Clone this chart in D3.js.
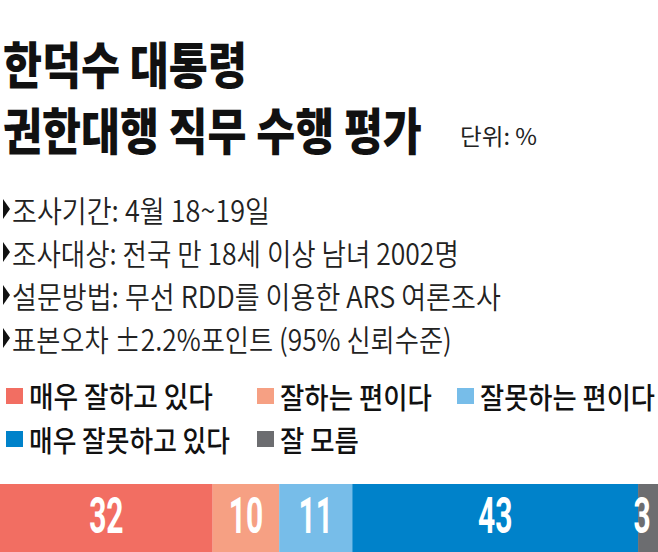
<!DOCTYPE html>
<html>
<head>
<meta charset="utf-8">
<script src="https://cdn.jsdelivr.net/npm/d3@7"></script>
<style>
  html, body { margin: 0; padding: 0; background: #fff; }
  svg { display: block; }
</style>
</head>
<body>
<div id="chart"></div>
<script>
// data
var titleLines = ["한덕수 대통령", "권한대행 직무 수행 평가"];
var unitLabel = "단위: %";
var notes = [
    "조사기간: 4월 18~19일",
    "조사대상: 전국 만 18세 이상 남녀 2002명",
    "설문방법: 무선 RDD를 이용한 ARS 여론조사",
    "표본오차 ±2.2%포인트 (95% 신뢰수준)"
];
var categories = ["매우 잘하고 있다", "잘하는 편이다", "잘못하는 편이다", "매우 잘못하고 있다", "잘 모름"];
var values = [32, 10, 11, 43, 3];
var colors = ["#f26e62", "#f6a083", "#77bde9", "#0082ca", "#6c6d70"];

// layout: text widths (the font is condensed)
var titleWidths = [244, 419];
var noteWidths = [258, 447, 489, 440];
var legendWidths = [184, 152, 175, 201, 79];

var W = 658, H = 552;
var kr = "'Noto Sans CJK KR', 'Noto Sans CJK SC', sans-serif";

var svg = d3.select("#chart").append("svg")
    .attr("width", W)
    .attr("height", H);

// squeeze a text horizontally so it takes the given width
function fitWidth(sel, x, y, widthFn) {
    sel.each(function (d, i) {
        var w = this.getComputedTextLength();
        var k = w > 0 ? widthFn(d, i) / w : 1;
        d3.select(this).attr("transform", "translate(" + x + "," + y(d, i) + ") scale(" + k + ",1)");
    });
}

// title
var title = svg.selectAll(".title")
    .data(titleLines)
    .enter().append("text")
    .attr("class", "title")
    .attr("dominant-baseline", "central")
    .style("font-family", kr)
    .style("font-weight", 900)
    .style("font-size", "50px")
    .style("fill", "#111")
    .text(function (d) { return d; });
fitWidth(title, 3, function (d, i) { return 62 + i * 66; }, function (d, i) { return titleWidths[i]; });

var unit = svg.append("text")
    .datum(unitLabel)
    .attr("dominant-baseline", "central")
    .style("font-family", kr)
    .style("font-weight", 400)
    .style("font-size", "23px")
    .style("fill", "#222")
    .text(unitLabel);
fitWidth(unit, 460, function () { return 135; }, function () { return 77; });

// notes
var noteY = d3.scaleLinear().domain([0, 1]).range([209, 252]);
var noteG = svg.selectAll(".note")
    .data(notes)
    .enter().append("g")
    .attr("class", "note")
    .attr("transform", function (d, i) { return "translate(0," + noteY(i) + ")"; });

noteG.append("path")
    .attr("d", "M3,-10L10,0L3,10Z")
    .style("fill", "#111");

var noteText = noteG.append("text")
    .attr("dominant-baseline", "central")
    .style("font-family", kr)
    .style("font-weight", 350)
    .style("font-size", "30px")
    .style("fill", "#222")
    .text(function (d) { return d; });
fitWidth(noteText, 12, function () { return 0; }, function (d, i) { return noteWidths[i]; });

// legend
var colX = [6, 257, 457];
var legend = svg.selectAll(".legend")
    .data(categories)
    .enter().append("g")
    .attr("class", "legend")
    .attr("transform", function (d, i) {
        var row = i < 3 ? 0 : 1;
        var col = i < 3 ? i : i - 3;
        return "translate(" + colX[col] + "," + (396 + row * 43) + ")";
    });

legend.append("rect")
    .attr("x", 0)
    .attr("y", -8)
    .attr("width", 17)
    .attr("height", 16)
    .style("fill", function (d, i) { return colors[i]; });

var legendText = legend.append("text")
    .attr("dominant-baseline", "central")
    .style("font-family", kr)
    .style("font-weight", 500)
    .style("font-size", "29px")
    .style("fill", "#111")
    .text(function (d) { return d; });
fitWidth(legendText, 23, function () { return 0; }, function (d, i) { return legendWidths[i]; });

// stacked bar
var x = d3.scaleLinear().domain([0, d3.sum(values)]).range([0, W]);
var starts = [];
values.reduce(function (acc, v) { starts.push(acc); return acc + v; }, 0);

var barTop = 484, barH = H - barTop;

svg.selectAll(".seg")
    .data(values)
    .enter().append("rect")
    .attr("class", "seg")
    .attr("x", function (d, i) { return x(starts[i]); })
    .attr("y", barTop)
    .attr("width", function (d) { return x(d) - x(0); })
    .attr("height", barH)
    .style("fill", function (d, i) { return colors[i]; });

svg.selectAll(".val")
    .data(values)
    .enter().append("text")
    .attr("class", "val")
    .attr("transform", function (d, i) {
        var cx = x(starts[i] + d / 2);
        cx = Math.min(cx, W - 16);
        return "translate(" + cx + ",533) scale(0.6,1)";
    })
    .attr("text-anchor", "middle")
    .style("font-family", "Roboto, sans-serif")
    .style("font-weight", 700)
    .style("font-size", "50px")
    .style("fill", "#fff")
    .text(function (d) { return d; });
</script>
</body>
</html>
